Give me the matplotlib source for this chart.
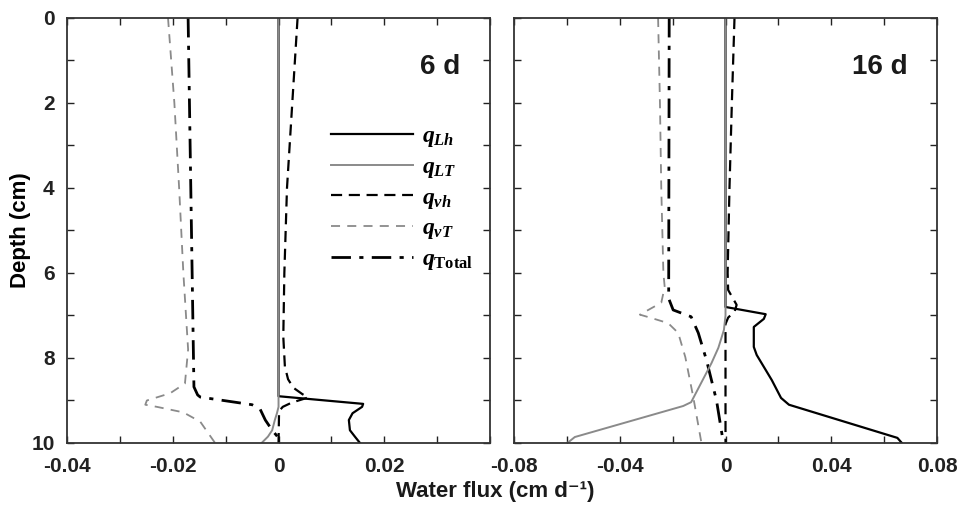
import matplotlib
matplotlib.use("Agg")
import matplotlib.pyplot as plt
from matplotlib.ticker import MultipleLocator

plt.rcParams['font.family'] = ['Liberation Sans', 'DejaVu Sans']
plt.rcParams['font.weight'] = 'bold'
plt.rcParams['mathtext.fontset'] = 'custom'
plt.rcParams['mathtext.it'] = 'Liberation Serif:bold:italic'
plt.rcParams['mathtext.rm'] = 'Liberation Serif:bold'
plt.rcParams['mathtext.bf'] = 'Liberation Serif:bold'

# ---- 6 d panel ----
d6_lh_depth = [0, 8.9, 9.08, 9.15, 9.3, 9.46, 9.7, 9.86, 10]
d6_lh_flux = [0, 0, 0.016, 0.0158, 0.0140, 0.0133, 0.0135, 0.0145, 0.0154]
d6_lt_depth = [0, 9.15, 9.3, 9.46, 9.7, 9.85, 10]
d6_lt_flux = [0, 0, -0.0003, -0.0007, -0.0012, -0.002, -0.0032]
d6_vh_depth = [0, 2, 4, 6, 7.5, 8.2, 8.5, 8.7, 8.85, 8.93, 9.05, 9.15, 9.25, 10]
d6_vh_flux = [0.0036, 0.0026, 0.0016, 0.0011, 0.0009, 0.0012, 0.0018, 0.0028,
              0.0045, 0.0056, 0.0025, 0.0008, 0.0001, 0.0]
d6_vt_depth = [0, 2, 4, 6, 7.8, 8.6, 8.83, 9.0, 9.1, 9.15, 9.28, 9.5, 10]
d6_vt_flux = [-0.0209, -0.0197, -0.0188, -0.018, -0.0171, -0.0177, -0.0205,
              -0.0249, -0.0252, -0.023, -0.018, -0.0148, -0.012]
d6_tot_depth = [0, 8.68, 8.87, 8.92, 9.1, 9.2, 9.46, 9.7, 9.85, 10]
d6_tot_flux = [-0.0171, -0.016, -0.0153, -0.0148, -0.005, -0.0035, -0.0025,
               -0.0012, -0.0002, 0]

# ---- 16 d panel ----
d16_lh_depth = [0, 6.8, 6.97, 7.08, 7.27, 7.74, 7.93, 8.52, 8.94, 9.1, 9.88, 10]
d16_lh_flux = [0, 0, 0.0152, 0.0145, 0.0107, 0.0107, 0.0118, 0.0175, 0.021,
               0.024, 0.065, 0.0667]
d16_lt_depth = [0, 7.0, 7.34, 7.76, 8.12, 9.04, 9.13, 9.86, 10]
d16_lt_flux = [0, 0, -0.0006, -0.0027, -0.0053, -0.013, -0.016, -0.057, -0.0598]
d16_vh_depth = [0, 2, 4, 6, 6.4, 6.75, 6.9, 7.05, 7.2, 10]
d16_vh_flux = [0.0034, 0.0024, 0.0015, 0.0008, 0.001, 0.0042, 0.0035, 0.001, 0.0, 0.0]
d16_vt_depth = [0, 2, 4, 6, 6.33, 6.7, 6.98, 7.06, 7.18, 7.41, 7.98, 8.92, 10]
d16_vt_flux = [-0.0255, -0.0248, -0.0243, -0.0235, -0.023, -0.0243, -0.0324,
               -0.028, -0.0217, -0.0179, -0.0152, -0.0122, -0.0091]
d16_tot_depth = [0, 6.6, 6.87, 7.03, 7.41, 8.05, 9.0, 10]
d16_tot_flux = [-0.0213, -0.0215, -0.0198, -0.013, -0.0103, -0.0072, -0.0034, -0.0008]

labels = [r'$q_{Lh}$', r'$q_{LT}$', r'$q_{vh}$', r'$q_{vT}$', r'$q_{\mathrm{Total}}$']
panel_titles = ['6 d', '16 d']
left_xticks = [-0.04, -0.02, 0, 0.02]
left_xticklabels = ['-0.04', '-0.02', '0', '0.02']
right_xticks = [-0.08, -0.04, 0, 0.04, 0.08]
right_xticklabels = ['-0.08', '-0.04', '0', '0.04', '0.08']
yticks = [0, 2, 4, 6, 8, 10]

gray = '#8a8a8a'
styles = [
    dict(color='black', lw=1.6, ls='-'),
    dict(color=gray, lw=1.4, ls='-'),
    dict(color='black', lw=1.6, ls=(0, (5, 3))),
    dict(color=gray, lw=1.3, ls=(0, (5, 4))),
    dict(color='black', lw=2.0, ls=(0, (7, 3, 1.5, 3))),
]

fig = plt.figure(figsize=(9.7, 5.08), dpi=100)
ax1 = fig.add_axes([0.0691, 0.128, 0.4361, 0.8366])
ax2 = fig.add_axes([0.5299, 0.128, 0.4361, 0.8366])

series = [
    [(d6_lh_flux, d6_lh_depth), (d6_lt_flux, d6_lt_depth), (d6_vh_flux, d6_vh_depth),
     (d6_vt_flux, d6_vt_depth), (d6_tot_flux, d6_tot_depth)],
    [(d16_lh_flux, d16_lh_depth), (d16_lt_flux, d16_lt_depth), (d16_vh_flux, d16_vh_depth),
     (d16_vt_flux, d16_vt_depth), (d16_tot_flux, d16_tot_depth)],
]

for ax, ser, title in zip([ax1, ax2], series, panel_titles):
    # draw so the gray q_LT sits on top of the zero lines
    order = [0, 2, 4, 3, 1]
    for i in order:
        x, y = ser[i]
        ax.plot(x, y, label=labels[i], **styles[i])
    ax.set_ylim(10, 0)
    ax.set_yticks(yticks)
    ax.yaxis.set_minor_locator(MultipleLocator(1))
    ax.tick_params(which='both', direction='in', top=True, right=True,
                   length=5, width=1.0, labelsize=15, colors='#222222')
    ax.tick_params(axis='x', pad=10)
    ax.tick_params(axis='y', pad=9)
    for sp in ax.spines.values():
        sp.set_linewidth(1.3)
        sp.set_color('#333333')
    ax.text(0.93, 0.885, title, transform=ax.transAxes, ha='right', va='center',
            fontsize=20, fontweight='bold', color='#1a1a1a')

ax1.set_xlim(-0.04, 0.04)
ax1.set_xticks(left_xticks)
ax1.set_xticklabels(left_xticklabels)
ax1.xaxis.set_minor_locator(MultipleLocator(0.01))
ax1.set_yticklabels([str(t) for t in yticks])
ax1.set_ylabel('Depth (cm)', fontsize=16, fontweight='bold', labelpad=0)

ax2.set_xlim(-0.08, 0.08)
ax2.set_xticks(right_xticks)
ax2.set_xticklabels(right_xticklabels)
ax2.xaxis.set_minor_locator(MultipleLocator(0.02))
ax2.set_yticklabels([])

handles, labs = ax1.get_legend_handles_labels()
hmap = dict(zip(labs, handles))
ax1.legend([hmap[l] for l in labels], labels, loc='upper left',
           bbox_to_anchor=(0.625, 0.75), frameon=False, fontsize=17,
           handlelength=3.45, handletextpad=0.4, labelspacing=0.24,
           borderpad=0, borderaxespad=0)

fig.text(0.511, 0.032, 'Water flux (cm d\u207b\u00b9)', ha='center', va='center',
         fontsize=16, fontweight='bold', color='#1a1a1a')

fig.savefig('out.png', dpi=100)
